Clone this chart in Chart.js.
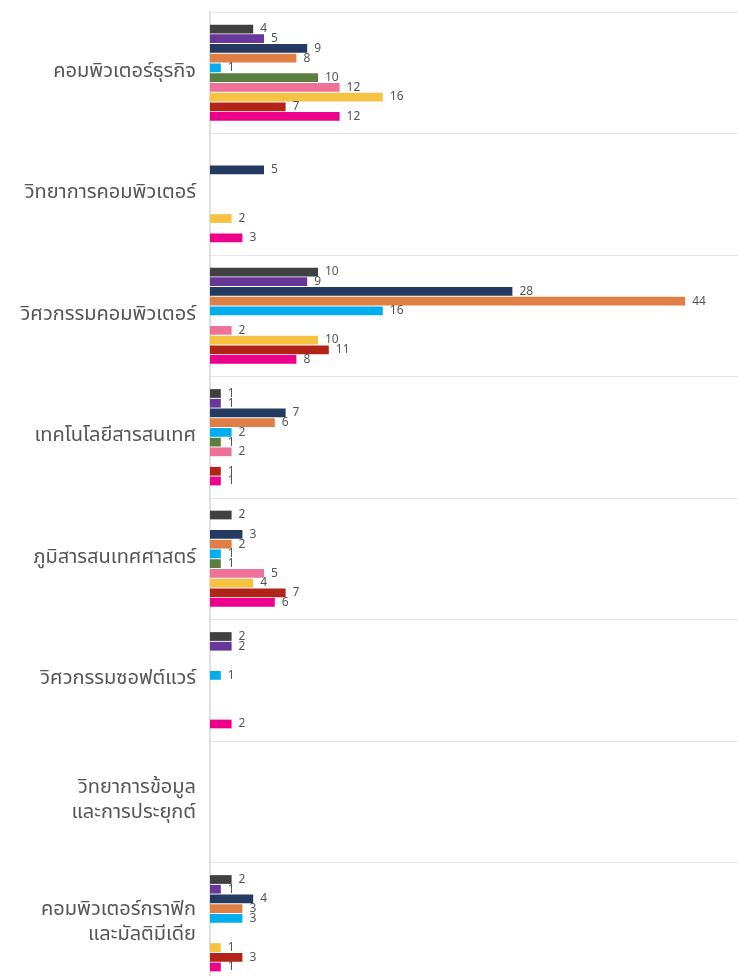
<!DOCTYPE html>
<html>
<head>
<meta charset="utf-8">
<script src="https://cdn.jsdelivr.net/npm/chart.js@4.4.0/dist/chart.umd.min.js"></script>
<style>
  html, body { margin: 0; padding: 0; background: #fff; overflow: hidden; }
  .wrap { position: relative; width: 750px; height: 984px; }
</style>
</head>
<body>
<div class="wrap"><canvas class="js-chart"></canvas></div>
<script>
const ctx = document.querySelector('.js-chart').getContext('2d');
const FONT = '"Noto Sans Thai", "Noto Sans Thai UI", "Noto Sans", sans-serif';

const programs = [
    'คอมพิวเตอร์ธุรกิจ',
    'วิทยาการคอมพิวเตอร์',
    'วิศวกรรมคอมพิวเตอร์',
    'เทคโนโลยีสารสนเทศ',
    'ภูมิสารสนเทศศาสตร์',
    'วิศวกรรมซอฟต์แวร์',
    ['วิทยาการข้อมูล', 'และการประยุกต์'],
    ['คอมพิวเตอร์กราฟิก', 'และมัลติมีเดีย'],
];

// one array per series, one value per program
const series1 = [4, null, 10, 1, 2, 2, null, 2];
const series2 = [5, null, 9, 1, null, 2, null, 1];
const series3 = [9, 5, 28, 7, 3, null, null, 4];
const series4 = [8, null, 44, 6, 2, null, null, 3];
const series5 = [1, null, 16, 2, 1, 1, null, 3];
const series6 = [10, null, null, 1, 1, null, null, null];
const series7 = [12, null, 2, 2, 5, null, null, null];
const series8 = [16, 2, 10, null, 4, null, null, 1];
const series9 = [7, null, 11, 1, 7, null, null, 3];
const series10 = [12, 3, 8, 1, 6, 2, null, 1];

const seriesNames = ['ชุดที่ 1', 'ชุดที่ 2', 'ชุดที่ 3', 'ชุดที่ 4', 'ชุดที่ 5',
    'ชุดที่ 6', 'ชุดที่ 7', 'ชุดที่ 8', 'ชุดที่ 9', 'ชุดที่ 10'];
const colors = ['#404040', '#67379a', '#253a60', '#e07f45', '#00aeef',
    '#5b7f3e', '#ee7298', '#f5c242', '#b22418', '#ec008c'];

const allSeries = [series1, series2, series3, series4, series5,
    series6, series7, series8, series9, series10];

// numbers at the end of each bar
const valueLabels = {
    id: 'valueLabels',
    afterDatasetsDraw(chart) {
        const c = chart.ctx;
        c.save();
        c.font = '12px ' + FONT;
        c.fillStyle = '#555';
        c.textBaseline = 'middle';
        c.textAlign = 'left';
        chart.data.datasets.forEach((ds, i) => {
            chart.getDatasetMeta(i).data.forEach((bar, j) => {
                const v = ds.data[j];
                if (v == null || v === 0) return;
                c.fillText(v, bar.x + 7, bar.y + 1);
            });
        });
        c.restore();
    }
};

new Chart(ctx, {
    type: 'bar',
    data: {
        labels: programs,
        datasets: allSeries.map((data, i) => ({
            label: seriesNames[i],
            data,
            backgroundColor: colors[i],
            borderWidth: 0,
        }))
    },
    options: {
        indexAxis: 'y',
        responsive: true,
        maintainAspectRatio: false,
        animation: false,
        layout: { padding: { top: 12, bottom: 0, left: 0, right: 0 } },
        plugins: {
            legend: { display: false },
            tooltip: { enabled: false },
        },
        scales: {
            x: {
                display: false,
                min: 0,
                max: 50,
            },
            y: {
                grid: { color: '#e6e6e6', drawTicks: false },
                border: { color: '#e0e0e0', width: 2 },
                ticks: {
                    color: '#555',
                    padding: 14,
                    font: { size: 20, family: FONT, lineHeight: 1.25 },
                },
                afterFit(scale) {
                    scale.width = 210;
                    scale.paddingTop = 0;
                    scale.paddingBottom = 0;
                },
            }
        }
    },
    plugins: [valueLabels]
});
</script>
</body>
</html>
